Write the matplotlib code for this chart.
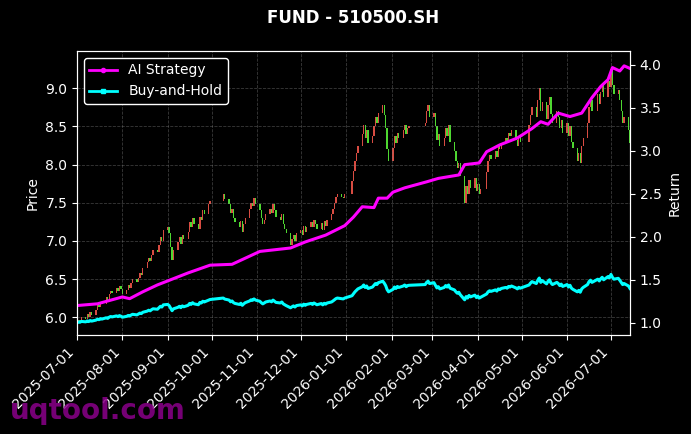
import numpy as np
import pandas as pd
import matplotlib
matplotlib.use('Agg')
import matplotlib.pyplot as plt
import matplotlib.dates as mdates
from matplotlib.lines import Line2D

# ---------------- data ----------------
holidays = ['2025-10-01', '2025-10-02', '2025-10-03', '2025-10-06', '2025-10-07', '2025-10-08',
            '2026-01-01', '2026-01-02',
            '2026-02-16', '2026-02-17', '2026-02-18', '2026-02-19', '2026-02-20', '2026-02-23',
            '2026-04-06', '2026-05-01', '2026-05-04', '2026-05-05', '2026-06-19']

close_2025_07 = [5.92, 5.97, 5.95, 6.01, 5.98, 6.04, 6.00, 6.07, 6.03, 6.10, 6.16, 6.13,
                 6.20, 6.17, 6.26, 6.22, 6.30, 6.35, 6.32, 6.39, 6.34, 6.41, 6.37]
close_2025_08 = [6.30, 6.36, 6.42, 6.38, 6.45, 6.50, 6.46, 6.52, 6.58, 6.55, 6.64, 6.72,
                 6.78, 6.74, 6.82, 6.88, 6.85, 6.95, 7.05, 7.00, 7.15]
close_2025_09 = [7.18, 7.10, 6.92, 6.75, 6.88, 6.98, 7.05, 6.96, 7.08, 7.02, 7.12, 7.25,
                 7.18, 7.30, 7.22, 7.16, 7.32, 7.28, 7.40, 7.35, 7.48, 7.52]
close_2025_10 = [7.62, 7.55, 7.48, 7.36, 7.42, 7.30, 7.25, 7.18, 7.26, 7.12, 7.22, 7.30,
                 7.42, 7.50, 7.46, 7.56, 7.48]
close_2025_11 = [7.40, 7.30, 7.22, 7.28, 7.35, 7.42, 7.36, 7.48, 7.40, 7.32, 7.28, 7.35,
                 7.22, 7.16, 7.10, 6.95, 7.02, 7.08, 7.00, 7.10]
close_2025_12 = [7.15, 7.08, 7.20, 7.12, 7.18, 7.25, 7.18, 7.28, 7.22, 7.16, 7.24, 7.15,
                 7.26, 7.20, 7.28, 7.35, 7.42, 7.50, 7.58, 7.62, 7.58, 7.56, 7.62]
close_2026_01 = [7.78, 7.92, 8.05, 8.15, 8.25, 8.40, 8.52, 8.35, 8.45, 8.28, 8.38, 8.50,
                 8.62, 8.55, 8.68, 8.78, 8.65, 8.48, 8.20, 8.05]
close_2026_02 = [8.22, 8.38, 8.28, 8.42, 8.35, 8.45, 8.52, 8.40, 8.48, 8.50, 8.55, 8.70,
                 8.78, 8.62]
close_2026_03 = [8.68, 8.50, 8.32, 8.40, 8.25, 8.35, 8.48, 8.38, 8.52, 8.30, 8.18, 8.05,
                 7.95, 8.02, 7.85, 7.50, 7.72, 7.62, 7.80, 7.70, 7.82, 7.66]
close_2026_04 = [7.75, 7.62, 7.68, 7.90, 8.05, 8.12, 8.08, 8.18, 8.10, 8.25, 8.20, 8.28,
                 8.35, 8.30, 8.42, 8.38, 8.45, 8.32, 8.25, 8.36, 8.30]
close_2026_05 = [8.52, 8.65, 8.75, 8.62, 8.85, 9.00, 8.70, 8.82, 8.60, 8.78, 8.88, 8.66,
                 8.55, 8.70, 8.62, 8.48, 8.58, 8.42]
close_2026_06 = [8.55, 8.38, 8.50, 8.30, 8.22, 8.05, 8.15, 8.02, 8.25, 8.35, 8.55, 8.75,
                 8.85, 8.70, 8.92, 8.80, 8.95, 9.05, 8.88, 9.10, 9.02]
close_2026_07 = [9.25, 9.05, 8.92, 8.98, 8.85, 8.70, 8.55, 8.62, 8.45, 8.28]
first_open = 5.90

ai_dates = ['2025-07-01', '2025-07-15', '2025-08-01', '2025-08-06', '2025-08-15', '2025-08-25',
            '2025-09-03', '2025-09-15', '2025-09-30', '2025-10-15', '2025-11-03', '2025-11-24',
            '2025-12-04', '2025-12-18', '2025-12-31', '2026-01-06', '2026-01-12', '2026-01-20',
            '2026-01-23', '2026-01-29', '2026-02-02', '2026-02-10', '2026-02-25', '2026-03-05',
            '2026-03-19', '2026-03-23', '2026-04-02', '2026-04-07', '2026-04-16', '2026-04-28',
            '2026-05-08', '2026-05-14', '2026-05-19', '2026-05-26', '2026-06-03', '2026-06-11',
            '2026-06-18', '2026-06-24', '2026-06-29', '2026-07-02', '2026-07-07', '2026-07-10',
            '2026-07-14']
ai_values = [1.20, 1.22, 1.30, 1.28, 1.36, 1.44,
             1.50, 1.58, 1.67, 1.68, 1.83, 1.87,
             1.94, 2.02, 2.13, 2.23, 2.35, 2.34,
             2.45, 2.45, 2.52, 2.57, 2.64, 2.68,
             2.72, 2.84, 2.86, 2.99, 3.07, 3.15,
             3.26, 3.34, 3.31, 3.44, 3.40, 3.44,
             3.62, 3.75, 3.83, 3.97, 3.93, 3.99,
             3.96]

# ---------------- build ----------------
closes = np.array(close_2025_07 + close_2025_08 + close_2025_09 + close_2025_10 +
                  close_2025_11 + close_2025_12 + close_2026_01 + close_2026_02 +
                  close_2026_03 + close_2026_04 + close_2026_05 + close_2026_06 +
                  close_2026_07)
dates = pd.bdate_range('2025-07-01', '2026-07-14')
dates = dates[~dates.isin(pd.to_datetime(holidays))]
assert len(dates) == len(closes), (len(dates), len(closes))
opens = np.r_[first_open, closes[:-1]]
bh = closes / closes[0]
ai_d = pd.to_datetime(ai_dates)

fig = plt.figure(figsize=(6.91, 4.34), dpi=100, facecolor='black')
ax = fig.add_axes([0.1114, 0.2281, 0.8003, 0.6544])
ax.set_facecolor('black')

up = closes >= opens
body = np.abs(closes - opens)
body = np.where(body < 0.02, 0.02, body)
low = np.minimum(opens, closes)
ax.bar(dates[up], body[up], bottom=low[up], width=0.9, color='#ff5a4e', alpha=0.85, linewidth=0)
ax.bar(dates[~up], body[~up], bottom=low[~up], width=0.9, color='#5cff3a', alpha=0.85, linewidth=0)

ax.set_xlim(dates[0], dates[-1])
ax.set_ylim(5.768, 9.489)
ax.xaxis.set_major_locator(mdates.MonthLocator())
ax.xaxis.set_major_formatter(mdates.DateFormatter('%Y-%m-%d'))
plt.setp(ax.get_xticklabels(), rotation=45, ha='right')
ax.grid(True, ls='--', color='gray', alpha=0.45, lw=0.6)
ax.set_ylabel('Price', color='white', fontsize=10)
ax.tick_params(colors='white', labelsize=10)
for s in ax.spines.values():
    s.set_color('white')

ax2 = ax.twinx()
ax2.plot(dates, bh, color='#00ffff', lw=2.2)
ax2.plot(ai_d, ai_values, color='#ff00ff', lw=2.2)
ax2.set_ylim(0.857, 4.163)
ax2.set_ylabel('Return', color='white', fontsize=10)
ax2.tick_params(colors='white', labelsize=10)
for s in ax2.spines.values():
    s.set_color('white')

handles = [Line2D([], [], color='#ff00ff', lw=2, marker='o', markersize=3, label='AI Strategy'),
           Line2D([], [], color='#00ffff', lw=2, marker='s', markersize=3, label='Buy-and-Hold')]
leg = ax2.legend(handles=handles, loc='upper left', facecolor='black', edgecolor='white',
                 labelcolor='white', fontsize=10, framealpha=1)

ax.set_title('FUND - 510500.SH', color='white', fontsize=12, fontweight='bold', pad=20)

fig.text(0.015, 0.035, 'uqtool.com', fontsize=20, color='#8b008b', alpha=0.85, fontweight='bold')

fig.savefig('out.png', dpi=100, facecolor='black')
